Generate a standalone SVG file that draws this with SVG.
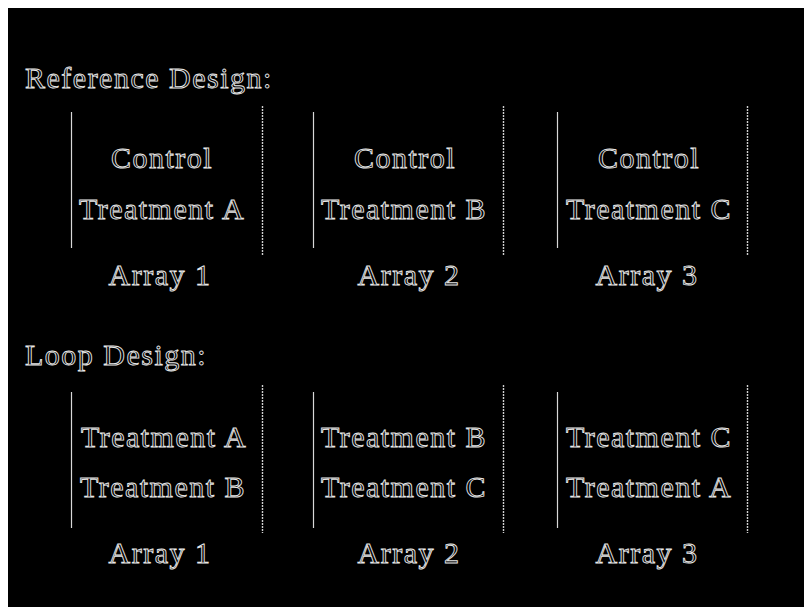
<svg xmlns="http://www.w3.org/2000/svg" width="804" height="607" viewBox="0 0 804 607">
<style>
.t{font-family:"Liberation Serif","Times New Roman",serif;font-size:30px;fill:#000;stroke:#e8e8e8;stroke-width:0.9;letter-spacing:1.5px}
.m{text-anchor:middle}
.l{stroke:#d8d8d8;stroke-width:1.2;fill:none}
.r{stroke:#cfcfcf;stroke-width:1.4;fill:none;stroke-dasharray:2 1}
</style>
<rect x="0" y="0" width="804" height="607" fill="#fff"/>
<rect x="8" y="8" width="796" height="599" fill="#000"/>
<text class="t" x="25" y="88">Reference Design:</text>
<text class="t" x="25" y="365">Loop Design:</text>
<g id="ref-array1">
<line class="l" x1="71.5" y1="112" x2="71.5" y2="248"/>
<line class="r" x1="262.5" y1="106" x2="262.5" y2="255"/>
<text class="t m" x="162" y="168">Control</text>
<text class="t m" x="162" y="219">Treatment A</text>
<text class="t m" x="160" y="285">Array 1</text>
</g>
<g id="ref-array2">
<line class="l" x1="313.5" y1="112" x2="313.5" y2="248"/>
<line class="r" x1="503.5" y1="106" x2="503.5" y2="255"/>
<text class="t m" x="405" y="168">Control</text>
<text class="t m" x="404" y="219">Treatment B</text>
<text class="t m" x="409" y="285">Array 2</text>
</g>
<g id="ref-array3">
<line class="l" x1="557.5" y1="112" x2="557.5" y2="248"/>
<line class="r" x1="747.5" y1="106" x2="747.5" y2="255"/>
<text class="t m" x="649" y="168">Control</text>
<text class="t m" x="649" y="219">Treatment C</text>
<text class="t m" x="647" y="285">Array 3</text>
</g>
<g id="loop-array1">
<line class="l" x1="71.5" y1="392" x2="71.5" y2="528"/>
<line class="r" x1="262.5" y1="385" x2="262.5" y2="533"/>
<text class="t m" x="164" y="447">Treatment A</text>
<text class="t m" x="163" y="497">Treatment B</text>
<text class="t m" x="160" y="563">Array 1</text>
</g>
<g id="loop-array2">
<line class="l" x1="313.5" y1="392" x2="313.5" y2="528"/>
<line class="r" x1="503.5" y1="385" x2="503.5" y2="533"/>
<text class="t m" x="404" y="447">Treatment B</text>
<text class="t m" x="404" y="497">Treatment C</text>
<text class="t m" x="409" y="563">Array 2</text>
</g>
<g id="loop-array3">
<line class="l" x1="557.5" y1="392" x2="557.5" y2="528"/>
<line class="r" x1="747.5" y1="385" x2="747.5" y2="533"/>
<text class="t m" x="649" y="447">Treatment C</text>
<text class="t m" x="649" y="497">Treatment A</text>
<text class="t m" x="647" y="563">Array 3</text>
</g>
<g id="connectors"></g>
</svg>
